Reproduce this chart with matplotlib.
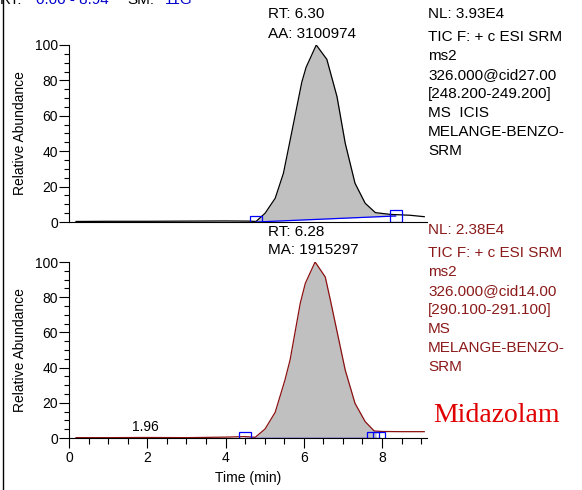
import numpy as np
import matplotlib
matplotlib.use('Agg')
import matplotlib.pyplot as plt
from matplotlib.ticker import MultipleLocator

plt.rcParams['font.family'] = ['Liberation Sans', 'DejaVu Sans']

# top trace (black)
top_time = [0.18, 1.0, 2.0, 3.0, 4.0, 4.6, 4.78, 4.88, 5.01, 5.27, 5.48, 5.65,
            5.95, 6.06, 6.32, 6.59, 6.85, 7.06, 7.31, 7.57, 7.83, 8.21, 8.72, 9.08]
top_abund = [0.3, 0.4, 0.4, 0.5, 0.6, 0.5, 0.3, 2.3, 4.9, 13.4, 27.5, 46.0,
             79.0, 87.4, 100.0, 91.9, 70.8, 44.5, 21.9, 10.6, 5.3, 4.3, 3.8, 3.0]
top_base_t = [4.78, 8.35]
top_base_y = [0.0, 3.4]

# bottom trace (dark red)
bot_time = [0.18, 1.0, 1.96, 3.0, 4.0, 4.5, 4.76, 5.01, 5.27, 5.52, 5.65, 5.91,
            6.04, 6.29, 6.55, 6.68, 7.06, 7.31, 7.57, 7.80, 8.0, 8.5, 9.08]
bot_abund = [0.2, 0.2, 0.3, 0.2, 0.5, 0.8, 0.4, 5.1, 14.6, 33.0, 44.3, 76.5,
             87.9, 100.0, 91.5, 78.4, 38.6, 19.7, 9.3, 4.0, 3.7, 3.6, 3.6]
bot_base_t = [4.5, 7.95]
bot_base_y = [0.0, 0.0]
bot_marks_t = [4.5, 7.78, 7.93]
bot_marks_y = [0.0, 0.0, 0.0]

top_info = ['NL: 3.93E4', 'TIC F: + c ESI SRM', 'ms2', '326.000@cid27.00',
            '[248.200-249.200]', 'MS  ICIS', 'MELANGE-BENZO-', 'SRM']
bot_info = ['NL: 2.38E4', 'TIC F: + c ESI SRM', 'ms2', '326.000@cid14.00',
            '[290.100-291.100]', 'MS', 'MELANGE-BENZO-', 'SRM']

W, H = 582, 490
fig = plt.figure(figsize=(W / 100, H / 100), dpi=100)


def px(x, y):
    return x / W, 1 - y / H


def setup_y(ax):
    ax.set_xlim(0, 9.15)
    ax.set_ylim(0, 100)
    ax.yaxis.set_major_locator(MultipleLocator(20))
    ax.yaxis.set_minor_locator(MultipleLocator(5))
    ax.tick_params(axis='y', which='major', direction='out', length=7, width=0.8,
                   pad=1, labelsize=10)
    ax.tick_params(axis='y', which='minor', direction='out', length=3.5, width=0.8)
    for s in ['top', 'right']:
        ax.spines[s].set_visible(False)


def fill_peak(ax, t, a, bt, by, lo, hi):
    t = np.array(t)
    a = np.array(a)
    grid = np.union1d(t, [lo, hi])
    grid = grid[(grid >= lo) & (grid <= hi)]
    yy = np.interp(grid, t, a)
    base = np.interp(grid, bt, by)
    ax.fill_between(grid, base, yy, color='#C0C0C0', lw=0)


# top panel
ax1 = fig.add_axes([69 / W, 1 - 222 / H, 358 / W, 177 / H])
setup_y(ax1)
ax1.set_xticks([])
fill_peak(ax1, top_time, top_abund, top_base_t, top_base_y, 4.78, 8.35)
ax1.plot(top_time, top_abund, color='black', lw=0.9)
ax1.plot(top_base_t, top_base_y, color='#0000FF', lw=0.9)
ax1.plot(top_base_t, top_base_y, ls='none', marker='s', ms=8.5, mfc='none',
         mec='#0000FF', mew=0.9)

# bottom panel
ax2 = fig.add_axes([69 / W, 1 - 438 / H, 358 / W, 176 / H])
setup_y(ax2)
ax2.xaxis.set_major_locator(MultipleLocator(2))
ax2.xaxis.set_minor_locator(MultipleLocator(0.5))
ax2.tick_params(axis='x', which='major', direction='out', length=7, width=0.8,
                pad=2, labelsize=10)
ax2.tick_params(axis='x', which='minor', direction='out', length=4.5, width=0.8)
fill_peak(ax2, bot_time, bot_abund, bot_base_t, bot_base_y, 4.76, 7.85)
ax2.plot(bot_time, bot_abund, color='#8B1010', lw=0.9)
ax2.plot(bot_base_t, bot_base_y, color='#0000FF', lw=1.0)
ax2.plot(bot_marks_t, bot_marks_y, ls='none', marker='s', ms=8.5, mfc='none',
         mec='#0000FF', mew=0.9)
ax2.text(1.96, 2.0, '1.96', ha='center', va='bottom', fontsize=10)

# axis labels
for yc in [133, 350]:
    x, y = px(20, yc)
    fig.text(x, y, 'Relative Abundance', rotation=90, ha='center', va='center', fontsize=10)
x, y = px(248, 478)
fig.text(x, y, 'Time (min)', ha='center', va='center', fontsize=10)

# peak annotations
for txt, yc in [('RT: 6.30', 14), ('AA: 3100974', 34), ('RT: 6.28', 232), ('MA: 1915297', 250)]:
    x, y = px(268, yc)
    fig.text(x, y, txt, ha='left', va='center', fontsize=11)

# info blocks
top_y = [14, 37, 56, 75, 94, 113, 132, 151]
bot_y = [230, 253, 272, 291, 310, 329, 348, 367]
for txt, yc in zip(top_info, top_y):
    x, y = px(428, yc)
    fig.text(x, y, txt, ha='left', va='center', fontsize=11, color='black')
for txt, yc in zip(bot_info, bot_y):
    x, y = px(428, yc)
    fig.text(x, y, txt, ha='left', va='center', fontsize=11, color='#8B1A1A')

x, y = px(433, 415)
fig.text(x, y, 'Midazolam', ha='left', va='center', fontsize=20, color='#E00000',
         family=['Liberation Serif', 'DejaVu Serif'])

# header cut off at top edge
for txt, xp, col in [('RT:', 0, 'black'), ('0.00 - 8.94', 36, '#0000CC'),
                     ('SM:', 127, 'black'), ('11G', 165, '#0000CC')]:
    x, y = px(xp, 4)
    fig.text(x, y, txt, ha='left', va='baseline', fontsize=11, color=col)

# left frame line
fig.add_artist(plt.Line2D([3 / W, 3 / W], [0, 1], color='black', lw=1.0))

fig.savefig('out.png', dpi=100)
